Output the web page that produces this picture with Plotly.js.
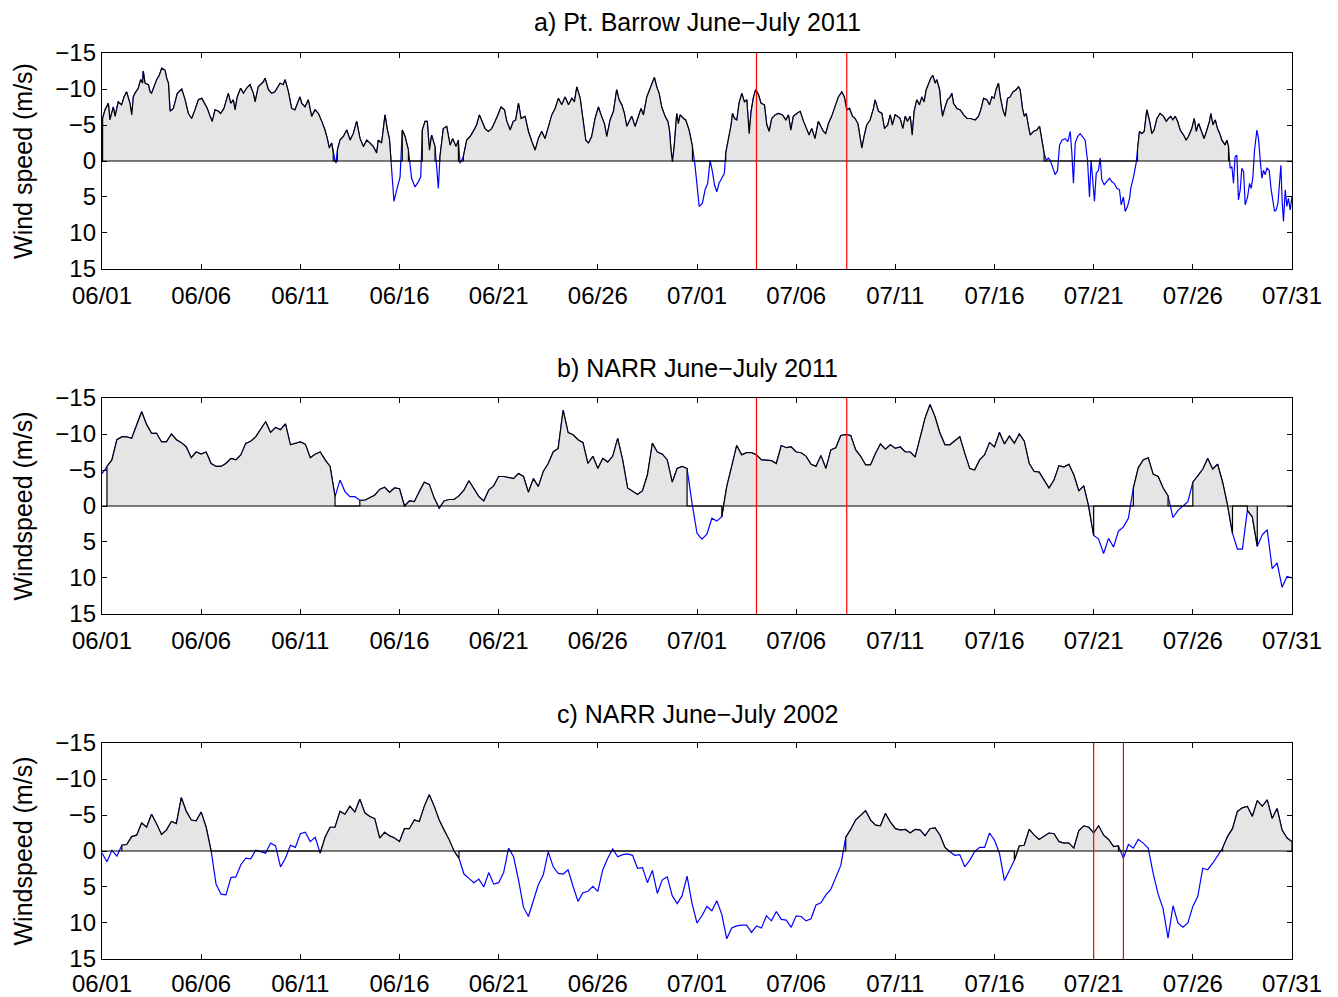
<!DOCTYPE html>
<html><head><meta charset="utf-8">
<script src="https://cdn.plot.ly/plotly-3.0.1.min.js"></script>
<style>html,body{margin:0;padding:0;background:#fff}#chart{width:1338px;height:997px}</style>
</head><body><div id="chart"></div>
<script>
// ---------- data ----------
const tickDays = [0,5,10,15,20,25,30,35,40,45,50,55,60];
const tickLabels = ['06/01','06/06','06/11','06/16','06/21','06/26','07/01','07/06','07/11','07/16','07/21','07/26','07/31'];
const yTicks = [-15,-10,-5,0,5,10,15];
const panelTitles = ['a) Pt. Barrow June\u2212July 2011','b) NARR June\u2212July 2011','c) NARR June\u2212July 2002'];
const yTitles = ['Wind speed (m/s)','Windspeed (m/s)','Windspeed (m/s)'];

// Panel a: Pt. Barrow observations (day since 06/01, wind speed m/s)
const aDay = [
0.03,0.15,0.32,0.40,0.57,0.66,0.82,0.99,1.11,1.24,
1.41,1.50,1.58,1.66,1.83,1.95,2.05,2.08,2.17,2.34,
2.42,2.50,2.62,2.76,2.89,3.01,3.18,3.26,3.35,3.43,
3.60,3.80,4.02,4.19,4.35,4.52,4.69,4.86,5.03,5.19,
5.31,5.45,5.56,5.70,5.87,5.98,6.15,6.37,6.49,6.62,
6.71,6.82,6.99,7.13,7.29,7.46,7.63,7.72,7.88,8.14,
8.22,8.39,8.56,8.72,8.98,9.14,9.23,9.40,9.56,9.73,
9.98,10.07,10.24,10.40,10.57,10.74,10.91,11.08,11.24,11.36,
11.46,11.58,11.66,11.75,11.80,11.87,12.00,12.17,12.34,12.51,
12.67,12.84,13.01,13.18,13.35,13.51,13.68,13.85,13.93,14.10,
14.27,14.39,14.49,14.57,14.72,14.86,15.03,15.14,15.28,15.45,
15.53,15.61,15.78,15.95,16.07,16.15,16.29,16.40,16.51,16.62,
16.79,16.88,16.96,17.04,17.21,17.38,17.55,17.68,17.85,17.97,
18.05,18.22,18.39,18.56,18.72,18.89,19.03,19.14,19.31,19.48,
19.65,19.82,19.93,
19.99,20.12,20.29,20.41,20.58,20.74,20.86,21.00,21.13,21.33,
21.50,21.67,21.84,22.00,22.17,22.34,22.51,22.68,22.85,23.01,
23.18,23.35,23.52,23.69,23.82,23.94,24.11,24.22,24.39,24.53,
24.69,24.86,25.03,25.16,25.33,25.45,25.62,25.79,25.95,26.07,
26.21,26.34,26.46,26.58,26.71,26.88,27.05,27.18,27.30,27.47,
27.64,27.85,27.97,28.09,28.22,28.39,28.53,28.61,28.69,28.76,
28.85,28.98,29.06,29.15,29.32,29.43,29.60,29.77,29.90,29.99,
30.11,30.27,30.41,30.54,30.66,30.78,30.88,31.00,31.11,31.25,
31.38,31.45,31.58,31.72,31.79,31.89,32.01,32.12,32.26,32.39,
32.51,32.63,32.73,32.85,32.96,33.10,33.23,33.40,33.52,33.64,
33.77,33.94,34.11,34.31,34.48,34.61,34.73,34.86,35.03,35.20,
35.37,35.48,35.65,35.79,35.95,36.12,36.26,36.37,36.49,36.63,
36.79,36.96,37.13,37.30,37.43,37.55,37.69,37.84,37.97,38.11,
38.22,38.31,38.44,38.56,38.73,38.90,38.98,39.15,39.32,39.45,
39.62,39.74,39.85,
39.99,40.11,40.24,40.38,40.50,40.61,40.75,40.85,40.95,41.08,
41.22,41.34,41.45,41.56,41.67,41.79,41.89,42.01,42.09,42.23,
42.29,42.38,42.51,42.63,42.77,42.85,42.93,43.10,43.27,43.44,
43.61,43.77,44.03,44.19,44.31,44.45,44.61,44.75,44.87,44.98,
45.08,45.20,45.29,45.42,45.54,45.66,45.79,45.93,46.09,46.21,
46.29,46.41,46.50,46.60,46.71,46.80,46.97,47.13,47.27,47.39,
47.50,47.61,47.72,47.81,47.94,48.06,48.18,48.28,48.40,48.56,
48.70,48.82,48.90,48.98,49.07,49.19,49.32,49.45,49.57,49.69,
49.79,49.87,49.96,50.04,50.13,50.24,50.33,50.41,50.53,50.66,
50.80,50.92,51.03,51.17,51.30,51.39,51.50,51.59,51.71,51.81,
51.87,52.01,52.14,52.21,52.31,52.43,52.55,52.68,52.82,52.93,
53.05,53.19,53.35,53.52,53.66,53.77,53.89,53.99,54.11,54.23,
54.36,54.53,54.66,54.78,54.95,55.07,55.17,55.29,55.45,55.57,
55.71,55.84,55.91,56.01,56.13,56.24,56.38,56.46,56.63,56.71,
56.80,56.88,56.97,57.05,57.13,57.22,57.30,57.39,57.47,57.56,
57.64,57.76,57.86,57.94,58.03,58.11,58.23,58.31,58.40,58.48,
58.56,58.65,58.73,58.85,58.95,59.03,59.12,59.20,59.29,59.37,
59.44,59.50,59.57,59.66,59.74,59.82,59.91,60.00
];
const aSpeed = [
-5.9,-7.1,-8.0,-5.7,-7.5,-6.2,-8.2,-7.8,-8.9,-9.6,
-8.0,-6.4,-8.9,-9.4,-10.1,-11.3,-10.8,-12.5,-10.8,-10.6,
-9.6,-9.4,-10.3,-11.3,-11.9,-12.9,-12.6,-11.5,-10.8,-6.9,
-7.3,-9.4,-10.0,-8.5,-6.6,-5.9,-7.1,-8.5,-8.7,-8.0,
-7.3,-6.2,-5.5,-7.1,-6.9,-6.6,-7.3,-9.4,-8.0,-8.5,
-7.1,-8.9,-10.1,-9.4,-10.1,-10.6,-9.4,-8.2,-10.3,-11.0,
-11.5,-9.9,-9.4,-9.6,-10.8,-10.6,-11.3,-9.6,-7.3,-7.1,
-8.9,-8.0,-7.5,-8.5,-6.2,-7.1,-6.6,-5.5,-4.3,-3.1,
-1.8,-2.5,-1.1,-0.1,0.3,-1.5,-2.9,-3.4,-4.3,-2.9,
-3.8,-5.5,-3.1,-2.0,-2.9,-2.5,-2.0,-1.1,-2.9,-2.5,
-6.4,-4.3,-3.1,-0.1,5.6,4.0,2.2,-4.3,-3.4,-1.5,
0.8,2.4,3.6,2.9,2.2,-4.3,-5.5,-5.5,-1.5,-3.6,
-2.0,1.7,3.8,-0.6,-4.5,-4.8,-2.2,-3.1,-2.0,-2.9,
0.3,-0.6,-2.9,-3.4,-4.1,-5.0,-6.4,-5.7,-4.5,-4.1,
-4.5,-5.5,-6.4,
-6.6,-7.5,-7.1,-5.5,-4.3,-5.5,-5.7,-8.0,-5.9,-6.2,
-4.1,-2.7,-1.5,-3.1,-4.1,-3.1,-4.8,-6.4,-7.3,-8.7,
-7.8,-8.9,-7.8,-8.7,-8.2,-10.3,-8.7,-6.2,-2.9,-2.5,
-3.4,-5.9,-7.5,-6.4,-5.2,-3.4,-5.7,-6.9,-9.9,-8.5,
-7.8,-6.6,-4.8,-5.5,-6.2,-4.8,-6.2,-7.3,-6.4,-8.9,
-10.1,-11.6,-10.3,-9.4,-7.5,-6.2,-5.5,-4.3,-1.5,0.1,
-2.0,-6.6,-5.2,-6.4,-5.9,-5.7,-4.3,-2.0,0.6,3.1,
6.3,5.9,4.0,3.1,-0.1,1.5,3.3,4.3,3.1,2.4,
1.7,-1.1,-2.9,-5.0,-6.6,-5.9,-5.7,-8.0,-9.4,-8.2,
-8.5,-3.8,-6.9,-8.9,-9.9,-9.2,-8.0,-7.8,-5.0,-4.1,
-5.9,-6.4,-6.6,-6.4,-5.7,-6.4,-4.3,-6.2,-6.6,-6.9,
-5.5,-4.8,-3.6,-4.5,-3.1,-5.5,-4.8,-4.1,-3.8,-5.2,
-6.2,-7.5,-8.9,-9.6,-8.9,-7.1,-7.3,-6.2,-5.9,-5.2,
-3.4,-1.8,-3.6,-5.0,-5.7,-7.3,-8.5,-6.9,-6.6,-4.5,
-5.0,-6.4,-5.0,
-6.4,-6.2,-5.9,-4.5,-6.2,-5.5,-6.2,-3.6,-6.9,-8.5,
-7.8,-8.9,-8.2,-9.9,-10.8,-11.5,-11.9,-10.8,-11.3,-9.9,
-8.0,-6.2,-7.5,-8.5,-8.9,-9.4,-8.0,-7.3,-7.1,-6.4,
-5.9,-5.9,-5.7,-6.2,-7.1,-8.7,-8.5,-7.8,-8.9,-8.7,
-9.9,-10.8,-8.9,-7.1,-6.2,-8.7,-8.9,-9.6,-9.9,-10.3,
-9.9,-7.3,-6.2,-6.6,-4.8,-3.6,-4.1,-4.3,-4.8,-2.5,
-1.1,-0.1,-0.4,-0.1,0.8,1.9,1.3,-2.2,-2.9,-3.1,
-2.7,-4.1,-1.1,3.1,-2.5,-3.4,-3.8,-3.4,-2.9,-0.1,
5.0,-0.1,3.1,5.6,1.7,1.3,-0.4,2.6,3.3,2.9,
2.4,2.9,3.1,3.8,4.0,6.1,5.0,7.0,6.3,5.2,
3.8,2.2,0.3,-1.5,-4.1,-3.8,-4.1,-7.1,-5.5,-3.8,
-4.3,-5.9,-6.6,-6.2,-5.5,-5.9,-6.2,-5.7,-6.2,-5.5,
-4.3,-3.6,-2.9,-3.4,-4.5,-5.9,-4.1,-5.2,-4.1,-3.1,
-4.3,-5.5,-6.6,-5.0,-5.7,-4.5,-3.6,-2.9,-2.2,-2.9,
-2.0,1.0,0.8,3.1,-0.6,-0.8,5.4,4.0,1.0,1.5,
6.1,5.0,3.1,3.8,2.2,-1.5,-4.3,-3.1,-0.1,2.4,
1.3,1.9,1.0,1.3,4.0,5.6,7.0,6.8,5.9,3.1,
0.6,5.4,8.4,4.0,6.3,5.2,6.8,5.0
];

// Panels b and c: NARR, one value every 0.25 day from 06/01 00:00
const narrStep = 0.25;
const bSpeed = [
-4.5,-5.5,-6.4,-9.2,-9.6,-9.6,-9.4,-11.3,-13.1,-11.3,
-10.1,-10.1,-8.9,-8.9,-10.0,-9.2,-8.8,-8.2,-6.7,-7.5,
-7.2,-7.5,-5.9,-5.5,-5.5,-5.9,-6.6,-6.4,-7.1,-8.7,
-9.0,-9.6,-10.6,-11.7,-10.2,-10.9,-10.6,-11.4,-8.5,-8.7,
-8.9,-8.6,-6.7,-7.2,-7.5,-6.4,-5.5,-1.3,-3.6,-2.0,
-1.3,-1.3,-0.8,-0.8,-1.2,-1.5,-2.3,-2.6,-1.9,-2.5,
-2.4,0.0,-0.7,-0.6,-2.0,-3.3,-3.0,-1.1,0.3,-0.7,
-0.9,-0.9,-1.4,-2.2,-3.5,-2.4,-1.3,-0.7,-2.2,-2.8,
-4.1,-4.1,-4.0,-3.8,-4.5,-4.1,-1.9,-3.8,-2.7,-4.8,
-5.9,-7.5,-8.0,-13.3,-10.2,-9.9,-9.2,-8.8,-5.9,-6.9,
-5.2,-6.6,-6.1,-6.9,-9.4,-6.4,-2.5,-2.0,-1.6,-2.1,
-4.3,-8.7,-7.5,-7.2,-6.4,-3.3,-5.2,-5.5,-5.2,-0.4,
3.8,4.6,3.9,1.7,2.1,1.5,-2.7,-5.5,-8.4,-7.1,
-7.4,-7.4,-7.1,-6.4,-6.3,-6.3,-5.9,-8.4,-8.1,-8.2,
-7.5,-7.4,-6.9,-5.8,-5.5,-7.0,-5.2,-7.8,-8.1,-9.8,
-9.9,-9.8,-7.8,-6.9,-5.7,-5.7,-7.3,-8.6,-7.9,-8.5,
-8.0,-8.2,-7.5,-7.5,-6.8,-9.4,-12.2,-14.1,-12.4,-10.1,
-8.5,-8.5,-9.1,-9.6,-7.3,-5.2,-5.0,-6.4,-7.1,-8.8,
-8.2,-10.2,-8.6,-9.7,-8.7,-10.0,-9.0,-5.9,-4.8,-4.7,
-3.6,-2.5,-3.6,-5.6,-5.4,-5.8,-4.3,-2.1,-2.8,0.1,
4.1,4.6,6.6,4.5,5.7,3.5,2.9,1.7,-2.5,-5.3,
-6.4,-6.7,-4.4,-4.1,-2.5,-1.4,1.6,0.6,0.0,-0.6,
-3.3,-4.2,-5.1,-6.6,-5.1,-5.8,-3.3,-0.1,3.8,6.0,
6.0,0.6,1.5,5.6,4.0,3.3,8.7,7.9,11.3,9.8,
10.0
];
const cSpeed = [
0.3,1.5,-0.1,0.7,-0.8,-0.9,-2.0,-2.2,-3.9,-3.3,
-5.1,-3.8,-2.3,-2.9,-4.1,-3.8,-7.4,-5.5,-4.3,-4.2,
-5.4,-3.3,-0.1,4.6,6.0,6.1,3.7,3.6,1.9,1.0,
1.1,-0.1,0.1,0.3,-1.1,-0.7,2.2,1.0,-0.8,-0.5,
-2.4,-2.6,-1.3,-1.9,0.3,-1.9,-3.3,-3.3,-5.5,-5.1,
-6.2,-5.4,-7.2,-5.3,-4.8,-4.5,-1.8,-2.6,-2.1,-1.8,
-1.3,-3.1,-3.1,-4.3,-4.1,-6.2,-7.8,-6.2,-4.3,-2.9,
-1.6,0.0,1.0,3.2,3.8,4.4,3.9,5.0,3.0,4.6,
4.4,3.0,-0.4,0.8,4.0,7.8,9.1,7.0,4.7,3.3,
0.1,2.2,3.1,3.2,2.6,4.9,7.0,5.8,5.6,4.9,
5.6,2.6,1.0,-0.3,0.8,0.5,0.4,0.6,2.4,2.3,
4.4,2.7,5.9,4.0,3.6,6.2,7.3,6.2,3.5,7.3,
10.0,9.0,7.7,8.3,6.9,8.8,12.2,10.7,10.4,10.3,
10.3,11.3,10.4,10.7,9.0,9.7,8.4,9.5,9.6,10.6,
9.0,9.1,9.7,9.4,7.5,7.2,6.1,5.3,3.6,2.0,
-1.9,-3.0,-4.3,-5.0,-5.6,-4.3,-3.6,-3.5,-5.2,-4.0,
-3.1,-2.9,-3.0,-2.5,-3.0,-2.9,-2.1,-3.1,-3.2,-2.2,
-0.5,0.1,0.6,0.5,2.2,1.3,0.1,-0.5,-0.5,-2.5,
-1.5,0.3,4.1,2.7,1.3,-0.7,-0.8,-3.0,-2.2,-1.6,
-2.0,-2.5,-2.4,-1.3,-1.1,-1.1,-0.4,-2.8,-3.5,-3.3,
-2.5,-3.5,-2.2,-1.6,-0.6,-0.7,1.0,-0.9,-0.4,-1.6,
-1.1,-0.4,3.1,6.0,8.0,12.1,7.6,10.0,10.6,10.0,
7.7,6.3,2.4,2.6,1.7,0.6,-0.4,-2.0,-3.1,-5.5,
-6.0,-6.2,-4.8,-7.0,-6.2,-7.1,-4.5,-5.9,-2.9,-1.8,
-1.3
];

// periods (day ranges) drawn as black shaded area
const aShaded = [[0.03,11.66],[11.87,14.57],[15.14,15.45],[16.15,16.79],[17.04,17.97],[18.22,29.77],[31.45,47.50],[52.21,56.80]];
const bShaded = [[0.25,11.75],[13.0,29.5],[31.25,50.0],[52.0,53.75],[55.0,57.0],[57.75,58.25]];
const cShaded = [[1.0,5.5],[11.0,18.0],[37.5,42.75],[46.0,51.25],[56.5,60.0]];

// red event markers (day since 06/01)
const aMarks = [33.0, 37.55];
const bMarks = [33.0, 37.55];
const cMarks = [50.0, 51.5];

// ---------- build ----------
if (aDay.length !== aSpeed.length) throw new Error('aDay/aSpeed mismatch ' + aDay.length + ' ' + aSpeed.length);
const bDay = bSpeed.map((_, i) => i * narrStep);
const cDay = cSpeed.map((_, i) => i * narrStep);

function shadedSeries(days, vals, runs) {
  const x = [], y = [];
  runs.forEach(([s, e]) => {
    const idx = [];
    days.forEach((d, i) => { if (d >= s - 1e-6 && d <= e + 1e-6) idx.push(i); });
    if (!idx.length) return;
    x.push(days[idx[0]]); y.push(0);
    idx.forEach(i => { x.push(days[i]); y.push(vals[i]); });
    x.push(days[idx[idx.length - 1]]); y.push(0);
  });
  return {x, y};
}

const FONT = 'Liberation Sans, Arial, Helvetica, sans-serif';
const FS = 25;
const XFS = 24;
const panels = [
  {days: aDay, vals: aSpeed, runs: aShaded, marks: aMarks},
  {days: bDay, vals: bSpeed, runs: bShaded, marks: bMarks},
  {days: cDay, vals: cSpeed, runs: cShaded, marks: cMarks}
];
const domains = [[0.7616, 1.0], [0.3808, 0.6192], [0.0, 0.2384]];
const titleY = [1.0342, 0.6523, 0.2704];
const xLabelStandoff = [5, 5, 3];

const data = [], shapes = [], annotations = [];
const layout = {
  width: 1338, height: 997,
  margin: {l: 102, r: 46, t: 53, b: 38},
  paper_bgcolor: '#fff', plot_bgcolor: '#fff',
  showlegend: false,
  font: {family: FONT, size: FS, color: '#000'}
};

panels.forEach((p, i) => {
  const s = i === 0 ? '' : String(i + 1);
  const xa = 'x' + s, ya = 'y' + s;
  data.push({x: p.days, y: p.vals, mode: 'lines', xaxis: xa, yaxis: ya,
    line: {color: '#0000ff', width: 1.2}, hoverinfo: 'skip'});
  const sh = shadedSeries(p.days, p.vals, p.runs);
  data.push({x: sh.x, y: sh.y, mode: 'lines', xaxis: xa, yaxis: ya,
    fill: 'tozeroy', fillcolor: '#e5e5e5',
    line: {color: '#000000', width: 1.2}, hoverinfo: 'skip'});

  layout['xaxis' + s] = {
    domain: [0, 1], anchor: ya, range: [0, 60],
    tickmode: 'array', tickvals: tickDays, ticktext: tickLabels,
    ticks: 'inside', ticklen: 5, tickwidth: 1, tickcolor: '#000',
    showline: true, linecolor: '#000', linewidth: 1.2, mirror: 'ticks',
    showgrid: false, zeroline: false, ticklabelstandoff: xLabelStandoff[i],
    tickfont: {family: FONT, size: XFS, color: '#000'}
  };
  layout['yaxis' + s] = {
    domain: domains[i], anchor: xa, range: [15, -15],
    tickmode: 'array', tickvals: yTicks,
    ticks: 'inside', ticklen: 5, tickwidth: 1, tickcolor: '#000',
    showline: true, linecolor: '#000', linewidth: 1.2, mirror: 'ticks',
    showgrid: false, zeroline: false,
    tickfont: {family: FONT, size: XFS, color: '#000'},
    title: {text: yTitles[i], font: {family: FONT, size: FS, color: '#000'}, standoff: 15}
  };
  shapes.push({type: 'line', xref: xa + ' domain', yref: ya, x0: 0, x1: 1, y0: 0, y1: 0,
    line: {color: '#000', width: 1.2}, layer: 'above'});
  p.marks.forEach(m => shapes.push({type: 'line', xref: xa, yref: ya + ' domain',
    x0: m, x1: m, y0: 0, y1: 1, line: {color: '#ff0000', width: 1.2}, layer: 'above'}));
  annotations.push({text: panelTitles[i], xref: 'paper', yref: 'paper', x: 0.5, y: titleY[i],
    xanchor: 'center', yanchor: 'middle', showarrow: false,
    font: {family: FONT, size: FS, color: '#000'}});
});
layout.shapes = shapes;
layout.annotations = annotations;

Plotly.newPlot('chart', data, layout, {displayModeBar: false, staticPlot: true});
</script>
</body></html>
